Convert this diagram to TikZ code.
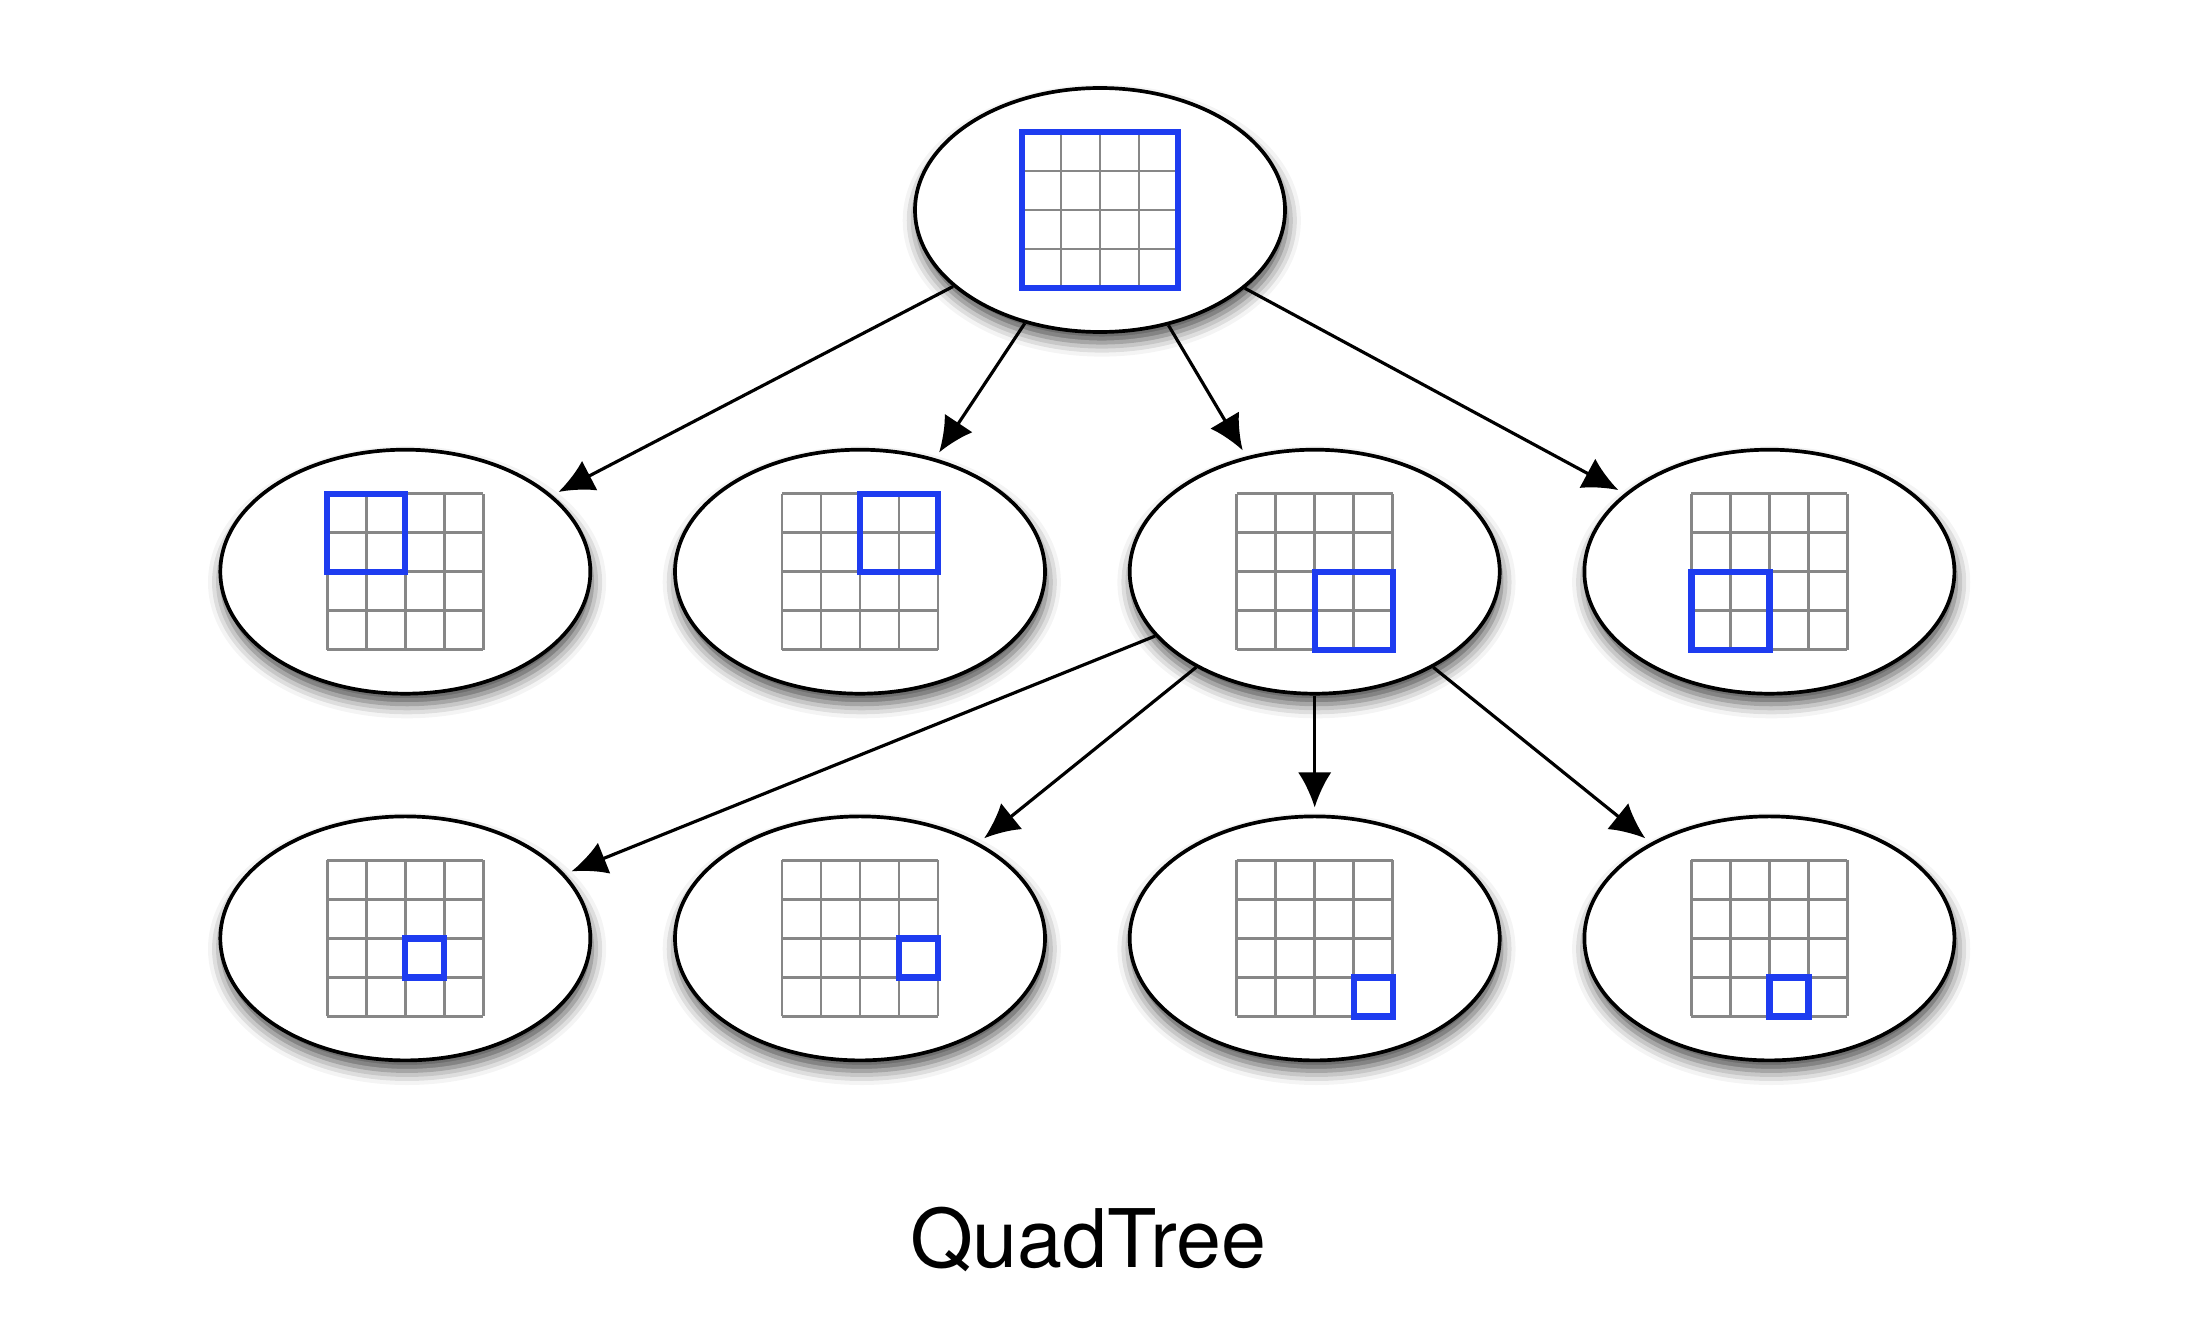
\documentclass[tikz,border=0pt]{standalone}
\usepackage{fontspec}
\setmainfont{TeX Gyre Heros}
\usetikzlibrary{shapes.geometric, arrows.meta, positioning, shadows.blur}

\definecolor{cellblue}{RGB}{30,60,240}
\definecolor{cellgray}{RGB}{135,135,135}

% 4x4 grid at a node, with the selected cells framed in blue
\newcommand{\quadgrid}[4]{%
  \begin{scope}[shift={(#1)}, scale=0.39]
    \draw[gridline] (-2,-2) grid (2,2);
    \draw[hilite] ({-2+#2},{2-#3}) rectangle ++(#4,-#4);
  \end{scope}}

\begin{document}
\begin{tikzpicture}[
    node distance=1.14cm and 0.81cm,
    quad/.style={ellipse, draw, line width=1.05pt, fill=white, minimum width=3.7cm, minimum height=2.44cm, inner sep=0pt,
      blur shadow={shadow xshift=0.5pt, shadow yshift=-3pt, shadow blur radius=4pt, shadow opacity=70}},
    line/.style={draw, line width=0.9pt, shorten >=2pt, -{Latex[length=10pt, width=9.5pt]}},
    gridline/.style={draw=cellgray, line width=0.8pt},
    hilite/.style={draw=cellblue, line width=1.8pt},
    caption/.style={font=\fontsize{23}{27}\selectfont}
]
\useasboundingbox (0,0) rectangle (21.92,-13.34);

% Root
\node[quad] (root) at (11.00,-2.10) {};

% First level: the four quadrants
\node[quad, below=1.14cm of root, xshift=-2.40cm] (ne) {};
\node[quad, left=of ne] (nw) {};
\node[quad, right=of ne] (se) {};
\node[quad, right=of se] (sw) {};

% Second level: the quadrants of se
\node[quad, below=1.19cm of nw] (senw) {};
\node[quad, below=1.19cm of ne] (sene) {};
\node[quad, below=1.19cm of se] (sese) {};
\node[quad, below=1.19cm of sw] (sesw) {};

% Grids
\foreach \n/\c/\r/\s in {root/0/0/4, nw/0/0/2, ne/2/0/2, se/2/2/2, sw/0/2/2,
    senw/2/2/1, sene/3/2/1, sese/3/3/1, sesw/2/3/1}
  \quadgrid{\n}{\c}{\r}{\s};

% Edges
\path [line] (root) -- (nw);
\path [line] (root) -- (ne);
\path [line] (root) -- (se);
\path [line] (root) -- (sw);
\path [line] (se) -- (senw);
\path [line] (se) -- (sene);
\path [line] (se) -- (sese);
\path [line] (se) -- (sesw);

% Caption
\node[caption, anchor=base] (title) at (10.88,-12.67) {QuadTree};

\end{tikzpicture}
\end{document}
